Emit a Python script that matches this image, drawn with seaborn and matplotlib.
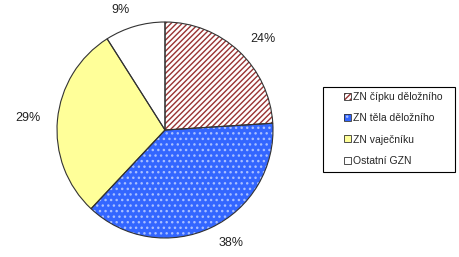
import matplotlib
matplotlib.use("Agg")
import matplotlib.pyplot as plt
from matplotlib.patches import Rectangle
import seaborn as sns

sns.set_theme(style="white")
plt.rcParams['font.family'] = ['Liberation Sans', 'DejaVu Sans']

categories = ["ZN čípku děložního", "ZN těla děložního", "ZN vaječníku", "Ostatní GZN"]
values = [24, 38, 29, 9]
pct_labels = ["24%", "38%", "29%", "9%"]

face_colors = ["#ffffff", "#3366ff", "#ffff99", "#ffffff"]
hatch_colors = ["#993333", "#a8bfff", "#ffff99", "#ffffff"]
hatches = ["//////", "...", None, None]

W, H = 460, 257
fig = plt.figure(figsize=(W / 100, H / 100), dpi=100)
fig.patch.set_facecolor("white")
ax = fig.add_axes([57 / W, 19 / H, 216 / W, 216 / H])

# hatched fill layer
wedges, texts = ax.pie(values, startangle=90, counterclock=False,
                       colors=face_colors, labels=pct_labels, labeldistance=1.16,
                       wedgeprops=dict(linewidth=0),
                       textprops=dict(fontsize=9, color="#222222"))
for w, h, hc in zip(wedges, hatches, hatch_colors):
    if h:
        w.set_hatch(h)
    w.set_edgecolor(hc)
    w.set_linewidth(0)

# outline layer
outline, _ = ax.pie(values, startangle=90, counterclock=False,
                    wedgeprops=dict(fill=False, edgecolor="#333333", linewidth=0.8))

ax.set_xlim(-1.0, 1.0)
ax.set_ylim(-1.0, 1.0)
ax.set_aspect("equal")
ax.axis("off")
for t in texts:
    t.set_clip_on(False)

handles = []
for fc, h, hc in zip(face_colors, hatches, hatch_colors):
    fill = Rectangle((0, 0), 1, 1, facecolor=fc, edgecolor=hc, hatch=h if h else None,
                     linewidth=0)
    edge = Rectangle((0, 0), 1, 1, fill=False, edgecolor="#333333", linewidth=0.6)
    handles.append((fill, edge))

# legend frame drawn separately
frame = Rectangle((323 / W, 1 - 172 / H), (455 - 323) / W, (172 - 87) / H,
                  transform=fig.transFigure, facecolor="white", edgecolor="black",
                  linewidth=0.8, zorder=1)
fig.patches.append(frame)

leg = fig.legend(handles, categories, loc="upper left",
                 bbox_to_anchor=(344 / W, 1 - 92 / H),
                 frameon=False,
                 fontsize=7.5, handlelength=0.65, handleheight=0.65,
                 handletextpad=0.25, labelspacing=1.08,
                 borderpad=0, borderaxespad=0)
leg.set_zorder(2)

fig.savefig("out.png", dpi=100, facecolor="white")
